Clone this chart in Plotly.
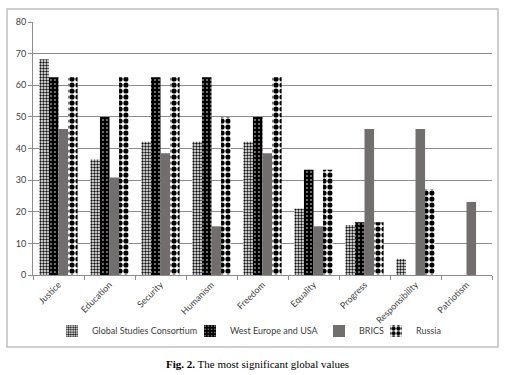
import plotly.graph_objects as go

categories = ["Justice", "Education", "Security", "Humanism", "Freedom",
              "Equality", "Progress", "Responsibility", "Patriotism"]
gsc = [68.2, 36.5, 42.1, 42.1, 42.1, 21.0, 15.8, 5.1, 0]
weu = [62.5, 50.0, 62.5, 62.5, 50.0, 33.3, 16.7, 0, 0]
brics = [46.2, 30.8, 38.5, 15.4, 38.5, 15.4, 46.2, 46.2, 23.1]
russia = [62.5, 62.5, 62.5, 50.0, 62.5, 33.3, 16.7, 27.1, 0]
series_names = ["Global Studies Consortium", "West Europe and USA", "BRICS", "Russia"]
y_ticks = [0, 10, 20, 30, 40, 50, 60, 70, 80]

font_family = "Lato, 'Open Sans', sans-serif"

fig = go.Figure()
fig.add_bar(x=categories, y=gsc, name=series_names[0], legend="legend",
            marker=dict(color="white", line=dict(width=0),
                        pattern=dict(shape=".", fgcolor="#111111", bgcolor="#ffffff",
                                     size=3, solidity=0.5, fillmode="replace")))
fig.add_bar(x=categories, y=weu, name=series_names[1], legend="legend2",
            marker=dict(color="black", line=dict(width=0),
                        pattern=dict(shape=".", fgcolor="#ffffff", bgcolor="#000000",
                                     size=4, solidity=0.12, fillmode="replace")))
fig.add_bar(x=categories, y=brics, name=series_names[2], legend="legend3",
            marker=dict(color="#736e6e", line=dict(width=0)))
fig.add_bar(x=categories, y=russia, name=series_names[3], legend="legend4",
            marker=dict(color="white", line=dict(width=0),
                        pattern=dict(shape=".", fgcolor="#000000", bgcolor="#ffffff",
                                     size=6, solidity=0.6, fillmode="replace")))


def px_x(X):
    return (X - 33) / 459.0


def leg(xpix):
    return dict(orientation="h", x=px_x(xpix), y=-0.221, xanchor="left", yanchor="middle",
                font=dict(size=9, color="#404040", family=font_family), itemwidth=30,
                bgcolor="rgba(0,0,0,0)")


fig.update_layout(
    width=515, height=375,
    margin=dict(l=33, r=23, t=22, b=100, autoexpand=False),
    paper_bgcolor="white", plot_bgcolor="white",
    barmode="group", bargap=0.25, bargroupgap=0,
    font=dict(family=font_family, size=9, color="#404040"),
    showlegend=True,
    legend=leg(52),
    legend2=leg(190),
    legend3=leg(319),
    legend4=leg(376),
    xaxis=dict(type="category", showline=True, linecolor="#8c8c8c", linewidth=1,
               ticks="outside", tickson="boundaries", ticklen=4, tickcolor="#8c8c8c",
               tickangle=-45, tickfont=dict(size=9, color="#404040"),
               showgrid=False),
    yaxis=dict(range=[0, 80], tickvals=y_ticks, showline=True, linecolor="#8c8c8c",
               linewidth=1, ticks="outside", ticklen=4, tickcolor="#8c8c8c",
               showgrid=True, gridcolor="#8c8c8c", gridwidth=1, zeroline=False,
               tickfont=dict(size=9, color="#404040")),
    shapes=[dict(type="rect", xref="paper", yref="paper",
                 x0=-0.0566, x1=1.013, y0=-0.2846, y1=1.051,
                 line=dict(color="#bfbfbf", width=1.5), fillcolor="rgba(0,0,0,0)",
                 layer="below")],
    annotations=[dict(xref="paper", yref="paper", x=0.489, y=-0.352,
                      xanchor="center", yanchor="middle", showarrow=False,
                      text="<b>Fig. 2.</b> The most significant global values",
                      font=dict(family="Liberation Serif, serif", size=11, color="#000000"))],
)

fig.write_html("out.html", config={"displayModeBar": False},
               post_script="document.body.style.margin='0';")
